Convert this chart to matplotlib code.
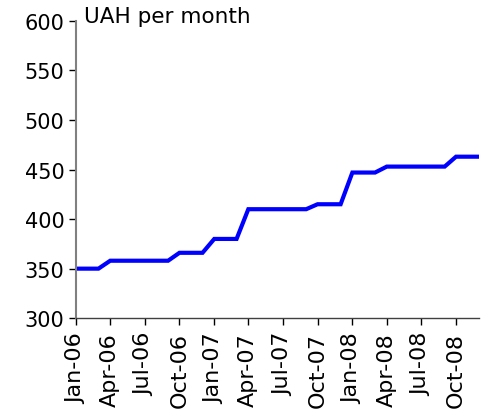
import matplotlib
matplotlib.use("Agg")
import matplotlib.pyplot as plt
import matplotlib.dates as mdates
import numpy as np
import pandas as pd

# monthly wage, Jan-06 .. Dec-08
months = pd.date_range("2006-01-01", "2008-12-01", freq="MS")
values = [350, 350, 350,
          358, 358, 358, 358, 358, 358,
          366, 366, 366,
          380, 380, 380,
          410, 410, 410, 410, 410, 410,
          415, 415, 415,
          447, 447, 447,
          453, 453, 453, 453, 453, 453,
          463, 463, 463]
unit_label = "UAH per month"

fig = plt.figure(figsize=(4.82, 4.14), dpi=100)
ax = fig.add_axes([0.158, 0.229, 0.836, 0.718])

ax.plot(months, values, color="#0000ff", linewidth=3, solid_joinstyle="miter")

ax.set_ylim(300, 600)
ax.set_yticks(np.arange(300, 601, 50))
ax.set_xlim(months[0], months[-1])
ax.xaxis.set_major_locator(mdates.MonthLocator(bymonth=[1, 4, 7, 10]))
ax.xaxis.set_major_formatter(mdates.DateFormatter("%b-%y"))

for side in ["top", "right"]:
    ax.spines[side].set_visible(False)
ax.spines["left"].set_color("#808080")
ax.spines["left"].set_linewidth(1.5)
ax.spines["bottom"].set_color("#404040")
ax.spines["bottom"].set_linewidth(1.0)

ax.tick_params(axis="both", length=5, width=1, color="black")
ax.tick_params(axis="y", labelsize=15)
ax.tick_params(axis="x", labelsize=16, labelrotation=90, pad=5)

ax.text(0.02, 1.015, unit_label, transform=ax.transAxes, fontsize=15.5,
        va="center", ha="left")

fig.savefig("out.png", dpi=100)
